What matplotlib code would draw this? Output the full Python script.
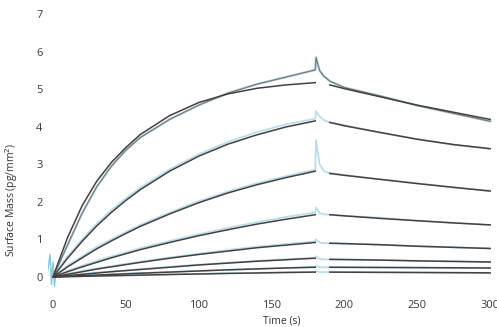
import matplotlib
matplotlib.use("Agg")
import matplotlib.pyplot as plt

plt.rcParams['font.family'] = ['Open Sans', 'DejaVu Sans']

# ---- data ----
t_assoc = [0, 10, 20, 30, 40, 50, 60, 80, 100, 120, 140, 160, 180]
t_dissoc = [190, 200, 225, 250, 275, 300]
t_data = [0, 10, 20, 30, 40, 50, 60, 80, 100, 120, 140, 160, 180, 180.5, 183, 186,
          190, 200, 225, 250, 275, 300]

fit_assoc_1 = [0, 1.05, 1.9, 2.55, 3.05, 3.45, 3.8, 4.3, 4.65, 4.88, 5.03, 5.12, 5.18]
fit_assoc_2 = [0, 0.50, 0.95, 1.36, 1.72, 2.04, 2.33, 2.82, 3.22, 3.54, 3.79, 4.00, 4.16]
fit_assoc_3 = [0, 0.27, 0.51, 0.75, 0.96, 1.16, 1.35, 1.68, 1.98, 2.24, 2.46, 2.65, 2.82]
fit_assoc_4 = [0, 0.14, 0.27, 0.39, 0.51, 0.62, 0.73, 0.92, 1.10, 1.26, 1.41, 1.54, 1.66]
fit_assoc_5 = [0, 0.07, 0.14, 0.21, 0.27, 0.33, 0.39, 0.50, 0.60, 0.69, 0.78, 0.85, 0.92]
fit_assoc_6 = [0, 0.035, 0.07, 0.105, 0.14, 0.17, 0.20, 0.26, 0.32, 0.37, 0.42, 0.46, 0.50]
fit_assoc_7 = [0, 0.018, 0.035, 0.05, 0.068, 0.084, 0.10, 0.13, 0.16, 0.19, 0.215, 0.24, 0.26]
fit_assoc_8 = [0, 0.009, 0.018, 0.026, 0.034, 0.042, 0.05, 0.066, 0.08, 0.095, 0.107, 0.12, 0.13]

fit_dissoc_1 = [5.12, 5.02, 4.80, 4.58, 4.39, 4.20]
fit_dissoc_2 = [4.12, 4.03, 3.85, 3.67, 3.53, 3.42]
fit_dissoc_3 = [2.76, 2.71, 2.60, 2.49, 2.39, 2.29]
fit_dissoc_4 = [1.66, 1.63, 1.56, 1.50, 1.44, 1.39]
fit_dissoc_5 = [0.90, 0.89, 0.86, 0.82, 0.79, 0.76]
fit_dissoc_6 = [0.47, 0.465, 0.45, 0.43, 0.415, 0.40]
fit_dissoc_7 = [0.26, 0.258, 0.254, 0.25, 0.245, 0.24]
fit_dissoc_8 = [0.13, 0.128, 0.124, 0.12, 0.115, 0.11]

data_1 = [0, 0.85, 1.7, 2.4, 2.95, 3.38, 3.72, 4.2, 4.58, 4.9, 5.14, 5.33, 5.52, 5.85, 5.5, 5.35,
          5.22, 5.05, 4.82, 4.57, 4.36, 4.15]
data_2 = [0, 0.55, 1.0, 1.42, 1.78, 2.1, 2.38, 2.87, 3.27, 3.6, 3.86, 4.07, 4.22, 4.42, 4.28, 4.18,
          4.12, 4.05, 3.84, 3.68, 3.52, 3.42]
data_3 = [0, 0.3, 0.55, 0.8, 1.0, 1.2, 1.39, 1.72, 2.02, 2.28, 2.5, 2.69, 2.86, 3.65, 3.0, 2.82,
          2.77, 2.72, 2.6, 2.5, 2.38, 2.3]
data_4 = [0, 0.17, 0.3, 0.43, 0.55, 0.66, 0.77, 0.96, 1.14, 1.31, 1.46, 1.6, 1.72, 1.85, 1.7, 1.67,
          1.66, 1.63, 1.58, 1.5, 1.45, 1.38]
data_5 = [0, 0.09, 0.16, 0.23, 0.29, 0.35, 0.41, 0.52, 0.62, 0.72, 0.81, 0.88, 0.95, 1.0, 0.92, 0.9,
          0.9, 0.89, 0.86, 0.82, 0.79, 0.76]
data_6 = [0, 0.05, 0.08, 0.12, 0.15, 0.18, 0.21, 0.27, 0.33, 0.38, 0.43, 0.47, 0.52, 0.55, 0.48, 0.47,
          0.47, 0.465, 0.45, 0.43, 0.415, 0.4]
data_7 = [0, 0.02, 0.04, 0.055, 0.07, 0.09, 0.105, 0.135, 0.165, 0.195, 0.22, 0.245, 0.27, 0.3, 0.26,
          0.26, 0.26, 0.258, 0.254, 0.25, 0.245, 0.24]
data_8 = [0, 0.01, 0.02, 0.03, 0.035, 0.045, 0.05, 0.07, 0.085, 0.1, 0.11, 0.125, 0.135, 0.16, 0.13,
          0.13, 0.13, 0.128, 0.124, 0.12, 0.115, 0.11]

t_start = [-4, -2, -1, 0, 1, 2, 3]
v_start = [0.05, 0.6, -0.2, 0.4, -0.25, 0.1, 0.0]

x_ticks = [0, 50, 100, 150, 200, 250, 300]
y_ticks = [0, 1, 2, 3, 4, 5, 6, 7]

fits_assoc = [fit_assoc_1, fit_assoc_2, fit_assoc_3, fit_assoc_4,
              fit_assoc_5, fit_assoc_6, fit_assoc_7, fit_assoc_8]
fits_dissoc = [fit_dissoc_1, fit_dissoc_2, fit_dissoc_3, fit_dissoc_4,
               fit_dissoc_5, fit_dissoc_6, fit_dissoc_7, fit_dissoc_8]
datas = [data_1, data_2, data_3, data_4, data_5, data_6, data_7, data_8]

# ---- figure ----
W, H = 497, 327
fig = plt.figure(figsize=(W / 100, H / 100), dpi=100)
left, right, top, bottom = 48, 497, 8, 292
ax = fig.add_axes([left / W, 1 - bottom / H, (right - left) / W, (bottom - top) / H])

blue = '#b8dfec'
dark = '#463f3f'

ax.plot(t_start, v_start, color='#86c8db', lw=1.0, zorder=2)
for i, d in enumerate(datas):
    if i == 0:
        ax.plot(t_data, d, color=blue, lw=1.8, zorder=2)
        ax.plot(t_data, d, color='#7a7a7a', lw=0.9, zorder=3)
    else:
        ax.plot(t_data, d, color=blue, lw=1.3, zorder=2)

for fa, fd in zip(fits_assoc, fits_dissoc):
    ax.plot(t_assoc, fa, color=dark, lw=1.1, zorder=4)
    ax.plot(t_dissoc, fd, color=dark, lw=1.1, zorder=4)

ax.set_xlim(-3.4, 304.7)
ax.set_ylim(-0.4, 7.17)
ax.set_xticks(x_ticks)
ax.set_yticks(y_ticks)
ax.tick_params(length=0, labelsize=8, colors='#3a3a3a')
ax.tick_params(axis='x', pad=6)
ax.tick_params(axis='y', pad=4)
for s in ax.spines.values():
    s.set_visible(False)

fig.text(282 / W, 1 - 321 / H, 'Time (s)', ha='center', va='center', fontsize=7.5, color='#333333')
fig.text(12 / W, 1 - 200 / H, 'Surface Mass (pg/mm$^2$)', ha='center', va='center',
         rotation=90, fontsize=7.5, color='#333333')

fig.savefig('out.png', dpi=100)
